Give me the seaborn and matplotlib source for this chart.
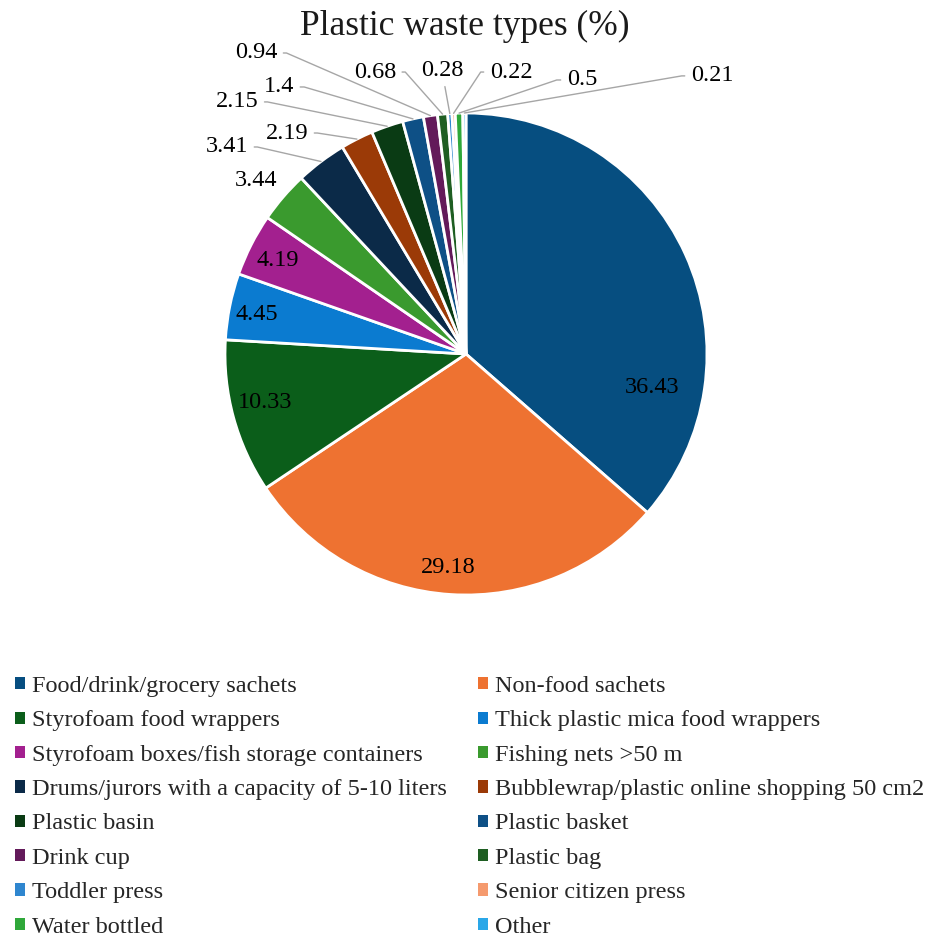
import math
import matplotlib
matplotlib.use('Agg')
import matplotlib.pyplot as plt
from matplotlib.patches import Patch
import seaborn as sns

# data
categories = [
    'Food/drink/grocery sachets', 'Non-food sachets',
    'Styrofoam food wrappers', 'Thick plastic mica food wrappers',
    'Styrofoam boxes/fish storage containers', 'Fishing nets >50 m',
    'Drums/jurors with a capacity of 5-10 liters', 'Bubblewrap/plastic online shopping 50 cm2',
    'Plastic basin', 'Plastic basket',
    'Drink cup', 'Plastic bag',
    'Toddler press', 'Senior citizen press',
    'Water bottled', 'Other',
]
values = [36.43, 29.18, 10.33, 4.45, 4.19, 3.44, 3.41, 2.19,
          2.15, 1.4, 0.94, 0.68, 0.28, 0.22, 0.5, 0.21]
colors = ['#064E80', '#EE7231', '#0B5E1A', '#0B7BD0', '#A3208F', '#3A9A2E',
          '#0B2A48', '#9B3A07', '#0A3B14', '#0E5086', '#631A5A', '#1E5E22',
          '#2F86CF', '#F59A6E', '#2FA83A', '#2AA7E8']

# label placement (data units, pie radius = 1); mode: in / out / lead / line
label_layout = [
    ((0.772, -0.140), 'in'), ((-0.075, -0.884), 'in'), ((-0.834, -0.203), 'in'),
    ((-0.867, 0.162), 'in'), ((-0.780, 0.390), 'in'), ((-0.871, 0.722), 'out'),
    ((-0.992, 0.859), 'lead'), ((-0.743, 0.917), 'lead'), ((-0.950, 1.046), 'lead'),
    ((-0.776, 1.108), 'lead'), ((-0.871, 1.249), 'lead'), ((-0.378, 1.170), 'lead'),
    ((-0.100, 1.178), 'line'), ((0.187, 1.170), 'lead'), ((0.481, 1.137), 'lead'),
    ((1.021, 1.154), 'lead'),
]

sns.set_theme(style='white')
plt.rcParams['font.family'] = ['Liberation Serif', 'DejaVu Serif']
palette = sns.color_palette(colors)

fs = 17.5
fig = plt.figure(figsize=(9.38, 9.43), dpi=100)
ax = fig.add_axes([0.0857, 0.2157, 0.8222, 0.8178])
wedges, _ = ax.pie(values, colors=palette, startangle=90, counterclock=False,
                   wedgeprops=dict(edgecolor='white', linewidth=2.0))
ax.set_xlim(-1.6, 1.6)
ax.set_ylim(-1.6, 1.6)
ax.set_aspect('equal')
ax.axis('off')

for w, v, ((tx, ty), mode) in zip(wedges, values, label_layout):
    s = f'{v:g}'
    if mode in ('in', 'out'):
        ax.text(tx, ty, s, ha='center', va='center', fontsize=fs, color='black')
        continue
    th = math.radians((w.theta1 + w.theta2) / 2)
    wx, wy = math.cos(th), math.sin(th)
    if mode == 'line':
        cs = 'arc3,rad=0'
    else:
        side = 1 if wx > tx else -1
        ex = tx + side * (0.0215 * len(s) + 0.04)
        angb = math.degrees(math.atan2(ty - wy, ex - wx))
        cs = f'angle,angleA=0,angleB={angb:.3f},rad=0'
    ax.annotate(s, xy=(wx, wy), xytext=(tx, ty), ha='center', va='center',
                fontsize=fs, color='black',
                arrowprops=dict(arrowstyle='-', color='#A6A6A6', lw=1.0,
                                shrinkA=2, shrinkB=0, connectionstyle=cs))

fig.text(0.495, 1 - 26 / 943, 'Plastic waste types (%)', ha='center', va='center',
         fontsize=25.5, color='#1a1a1a')

# two-column legend, filled row by row
handles = [Patch(facecolor=c, edgecolor='none') for c in palette]
for col, x0 in ((0, 15 / 938), (1, 478 / 938)):
    idx = list(range(col, len(categories), 2))
    fig.legend([handles[i] for i in idx], [categories[i] for i in idx],
               loc='upper left', bbox_to_anchor=(x0, (943 - 676) / 943),
               frameon=False, fontsize=fs, handlelength=0.4, handleheight=0.4,
               handletextpad=0.3, labelspacing=0.55, borderpad=0, borderaxespad=0)

plt.savefig('out.png', dpi=100)
